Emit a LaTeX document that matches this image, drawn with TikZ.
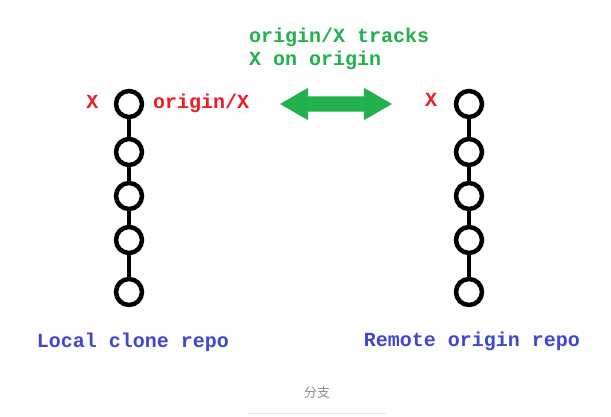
\documentclass[tikz,border=0pt]{standalone}
\usepackage{fontspec}
\setmonofont{Liberation Mono}
\newfontfamily\cjk{Noto Sans CJK SC}
\usetikzlibrary{shapes.arrows}
\definecolor{paintred}{HTML}{ED1C24}
\definecolor{paintgreen}{HTML}{22B14C}
\definecolor{paintblue}{HTML}{3F48CC}

\begin{document}
\begin{tikzpicture}[x=1pt,y=-1pt,
    commit/.style={circle,draw=black,line width=4.5pt,minimum size=26pt,inner sep=0pt},
    link/.style={line width=4.5pt},
    mono/.style={font=\fontsize{20}{23}\selectfont\ttfamily\bfseries,inner sep=0pt}]
  \useasboundingbox[fill=white] (0,0) rectangle (611,417);
  \fill[black!0.5] (28,0) rectangle (592,370);
  % the two chains of commits
  \foreach \y [count=\i] in {104,152,196,240,292}{
    \node[commit] (l\i) at (129,\y) {};
    \node[commit] (r\i) at (469,\y) {};
  }
  \foreach \i/\j in {1/2,2/3,3/4,4/5}{
    \draw[link] (l\i) -- (l\j);
    \draw[link] (r\i) -- (r\j);
  }
  % branch labels
  \node[mono,paintred,anchor=base] (lx) at (92.5,109) {X};
  \node[mono,paintred,anchor=base west] (ltrack) at (153,109) {origin/X};
  \node[mono,paintred,anchor=base] (rx) at (431,107) {X};
  % tracking
  \node[double arrow,fill=paintgreen,inner xsep=0pt,inner ysep=7.5pt,
        minimum height=112pt,double arrow head extend=8.5pt,
        double arrow tip angle=60] (track) at (336,104) {};
  \node[mono,paintgreen,align=left,anchor=north west] (note) at (249,28)
    {origin/X tracks\\X on origin};
  % repos
  \node[mono,paintblue,anchor=base] (local) at (133,347) {Local clone repo};
  \node[mono,paintblue,anchor=base] (remote) at (472,346) {Remote origin repo};
  % caption
  \node[font=\cjk\fontsize{13}{15}\selectfont,text=black!45] (caption) at (317,393) {分支};
  \draw[black!10] (248,413.5) -- (386,413.5);
\end{tikzpicture}
\end{document}
